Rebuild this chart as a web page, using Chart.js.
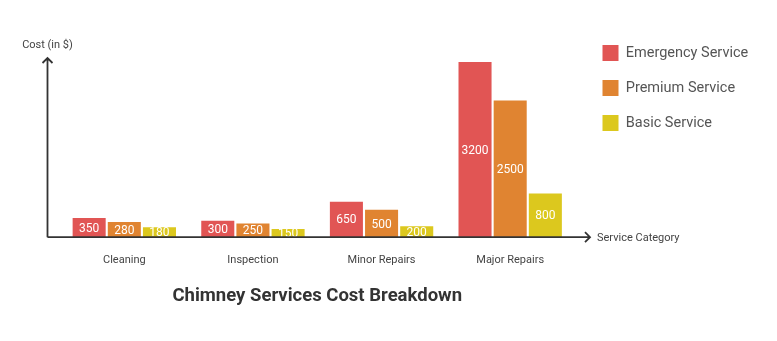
<!DOCTYPE html>
<html>
<head>
<meta charset="utf-8">
<script src="https://cdn.jsdelivr.net/npm/chart.js@4/dist/chart.umd.min.js"></script>
<style>
  html, body { margin: 0; padding: 0; background: #fff; }
  #wrap { width: 777px; height: 341px; position: relative; }
</style>
</head>
<body>
<div id="wrap"><canvas id="chart"></canvas></div>
<script>
// 데이터
const categories = ['Cleaning', 'Inspection', 'Minor Repairs', 'Major Repairs'];
const emergency = [350, 300, 650, 3200];
const premium = [280, 250, 500, 2500];
const basic = [180, 150, 200, 800];
const seriesNames = ['Emergency Service', 'Premium Service', 'Basic Service'];
const colors = ['#E15554', '#E08431', '#DCC81E'];

const FONT = 'Roboto, "Open Sans", sans-serif';

// 막대 안 값 라벨
const barLabels = {
  id: 'barLabels',
  afterDatasetsDraw(chart) {
    const ctx = chart.ctx;
    ctx.save();
    ctx.font = '12px ' + FONT;
    ctx.fillStyle = '#fff';
    ctx.textAlign = 'center';
    ctx.textBaseline = 'middle';
    chart.data.datasets.forEach((ds, i) => {
      chart.getDatasetMeta(i).data.forEach((bar, j) => {
        ctx.fillText(String(ds.data[j]), bar.x, (bar.y + bar.base) / 2 + 1);
      });
    });
    ctx.restore();
  }
};

// 화살표 축
const arrowAxes = {
  id: 'arrowAxes',
  afterDraw(chart) {
    const { ctx, chartArea } = chart;
    const ox = chartArea.left - 12.5;
    const oy = chart.scales.y.getPixelForValue(0);
    const topY = chart.scales.y.getPixelForValue(3275);
    const endX = chartArea.right + 15.5;
    ctx.save();
    ctx.strokeStyle = '#333';
    ctx.lineWidth = 1.8;
    ctx.beginPath();
    ctx.moveTo(ox, oy);
    ctx.lineTo(ox, topY);
    ctx.moveTo(ox, oy);
    ctx.lineTo(endX, oy);
    // 위쪽 화살표
    ctx.moveTo(ox - 5, topY + 5);
    ctx.lineTo(ox, topY);
    ctx.lineTo(ox + 5, topY + 5);
    // 오른쪽 화살표
    ctx.moveTo(endX - 5, oy - 5);
    ctx.lineTo(endX, oy);
    ctx.lineTo(endX - 5, oy + 5);
    ctx.stroke();

    ctx.font = '11px ' + FONT;
    ctx.fillStyle = '#444';
    ctx.textBaseline = 'middle';
    ctx.textAlign = 'center';
    ctx.fillText('Cost (in $)', ox, 45);
    ctx.textAlign = 'left';
    ctx.fillText('Service Category', endX + 7, oy + 1);
    ctx.restore();
  }
};

new Chart(document.getElementById('chart'), {
  type: 'bar',
  data: {
    labels: categories,
    datasets: [
      { label: seriesNames[0], data: emergency, backgroundColor: colors[0] },
      { label: seriesNames[1], data: premium, backgroundColor: colors[1] },
      { label: seriesNames[2], data: basic, backgroundColor: colors[2] }
    ]
  },
  options: {
    responsive: true,
    maintainAspectRatio: false,
    animation: false,
    layout: { padding: { left: 60, top: 26, right: 19, bottom: 14 } },
    datasets: { bar: { barPercentage: 0.94, categoryPercentage: 0.82 } },
    scales: {
      x: {
        grid: { display: false, drawTicks: false },
        border: { display: false },
        ticks: { padding: 16, color: '#444', font: { family: FONT, size: 11 } }
      },
      y: { display: false, min: 0, max: 3860 },
      yr: {
        position: 'right',
        grid: { display: false, drawTicks: false },
        border: { display: false },
        ticks: { display: false },
        afterFit(s) { s.width = 9; }
      }
    },
    plugins: {
      legend: {
        position: 'right',
        align: 'start',
        labels: {
          boxWidth: 16,
          boxHeight: 16,
          padding: 19,
          color: '#555',
          font: { family: FONT, size: 14.5 }
        }
      },
      title: {
        display: true,
        text: 'Chimney Services Cost Breakdown',
        position: 'bottom',
        fullSize: false,
        color: '#333',
        font: { family: FONT, size: 18.5, weight: 'bold' },
        padding: { top: 2.4, bottom: 20 }
      },
      tooltip: { enabled: false }
    }
  },
  plugins: [barLabels, arrowAxes]
});
</script>
</body>
</html>
